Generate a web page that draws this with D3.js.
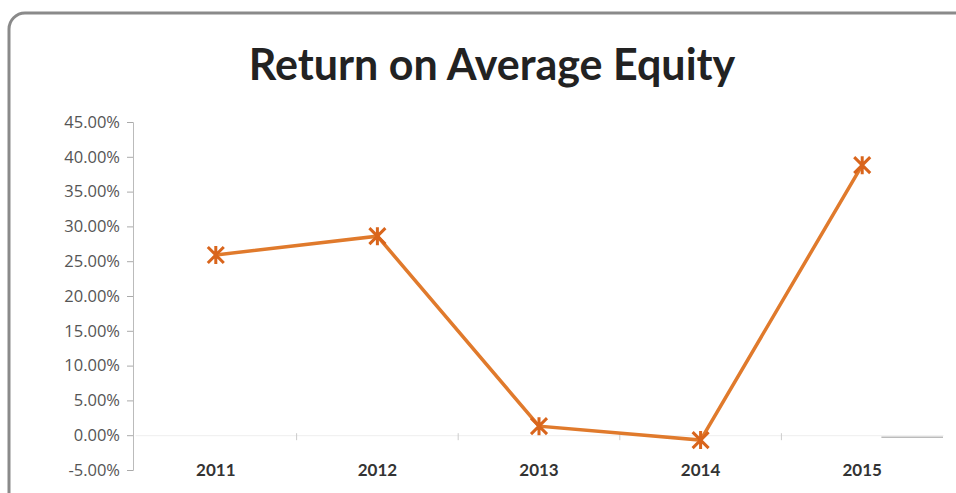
<html>
<head>
  <title>Return on Average Equity</title>
  <script src="https://cdn.jsdelivr.net/npm/d3@7"></script>
  <style>
    body { margin: 0; background: #fff; }
  </style>
</head>
<body>
  <script>
    let years = ["2011", "2012", "2013", "2014", "2015"]
    let roe = [25.9, 28.6, 1.3, -0.7, 38.8]
    let yTicks = [-5, 0, 5, 10, 15, 20, 25, 30, 35, 40, 45]

    var width = 956,
        height = 493;

    var svg = d3.select('body')
      .append('svg')
      .attr('width', width)
      .attr('height', height);

    // frame
    svg.append('rect')
      .attr('x', 9).attr('y', 13)
      .attr('width', 990).attr('height', 520)
      .attr('rx', 16)
      .attr('fill', '#fff')
      .attr('stroke', '#8a8a8a')
      .attr('stroke-width', 3);

    svg.append('text')
      .attr('x', 492).attr('y', 80)
      .attr('text-anchor', 'middle')
      .attr('font-family', 'Lato, sans-serif')
      .attr('font-weight', 'bold')
      .attr('font-size', 43)
      .attr('fill', '#222')
      .text('Return on Average Equity');

    var x = d3.scaleBand()
      .domain(years)
      .range([135, 943]);

    var y = d3.scaleLinear()
      .domain([-5, 45])
      .range([470, 122]);

    // y axis
    var yAxis = svg.append('g')
      .attr('transform', 'translate(133,0)')
      .call(d3.axisLeft(y).tickValues(yTicks).tickSize(6).tickPadding(7)
        .tickFormat(function (d) { return d.toFixed(2) + '%'; }));
    yAxis.select('.domain').attr('stroke', '#bbb');
    yAxis.selectAll('.tick line').attr('stroke', '#aaa');
    yAxis.selectAll('text')
      .attr('font-family', '"Open Sans", sans-serif')
      .attr('font-size', 16.5)
      .attr('fill', '#555');

    // x axis at zero
    var xAxis = svg.append('g')
      .attr('transform', 'translate(0,' + y(0) + ')')
      .call(d3.axisBottom(x).tickSize(0).tickFormat(''));
    xAxis.select('.domain').attr('stroke', '#eeeeee');

    // category boundary ticks
    svg.append('g').selectAll('line')
      .data(years.slice(1))
      .enter()
      .append('line')
      .attr('x1', function (d) { return x(d); })
      .attr('x2', function (d) { return x(d); })
      .attr('y1', y(0) - 2)
      .attr('y2', y(0) + 5)
      .attr('stroke', '#ccc');

    svg.append('line')
      .attr('x1', x('2015') + 100).attr('x2', 943)
      .attr('y1', y(0) + 2).attr('y2', y(0) + 2)
      .attr('stroke', '#bbb')
      .attr('stroke-width', 1.5);

    // year labels
    svg.append('g').selectAll('text')
      .data(years)
      .enter()
      .append('text')
      .attr('x', function (d) { return x(d) + x.bandwidth() / 2; })
      .attr('y', 476)
      .attr('text-anchor', 'middle')
      .attr('font-family', 'Lato, sans-serif')
      .attr('font-weight', 'bold')
      .attr('font-size', 17)
      .attr('fill', '#333')
      .text(function (d) { return d; });

    var data = years.map(function (d, i) { return { year: d, v: roe[i] }; });

    let line = d3.line()
      .x(function (d) { return x(d.year) + x.bandwidth() / 2; })
      .y(function (d) { return y(d.v); });

    svg.append('path')
      .attr('d', line(data))
      .attr('stroke', '#e07a2c')
      .attr('stroke-width', 3.5)
      .attr('fill', 'none');

    // star markers (X with a vertical bar, like Excel)
    var r = 8;
    var starPath = 'M' + (-r) + ',' + (-r) + 'L' + r + ',' + r +
                   'M' + (-r) + ',' + r + 'L' + r + ',' + (-r) +
                   'M0,' + (-r - 1) + 'L0,' + (r + 1);
    svg.append('g').selectAll('path')
      .data(data)
      .enter()
      .append('path')
      .attr('transform', function (d) {
        return 'translate(' + (x(d.year) + x.bandwidth() / 2) + ',' + y(d.v) + ')';
      })
      .attr('d', starPath)
      .attr('stroke', '#d9651c')
      .attr('stroke-width', 3)
      .attr('fill', 'none');
  </script>
</body>
</html>
